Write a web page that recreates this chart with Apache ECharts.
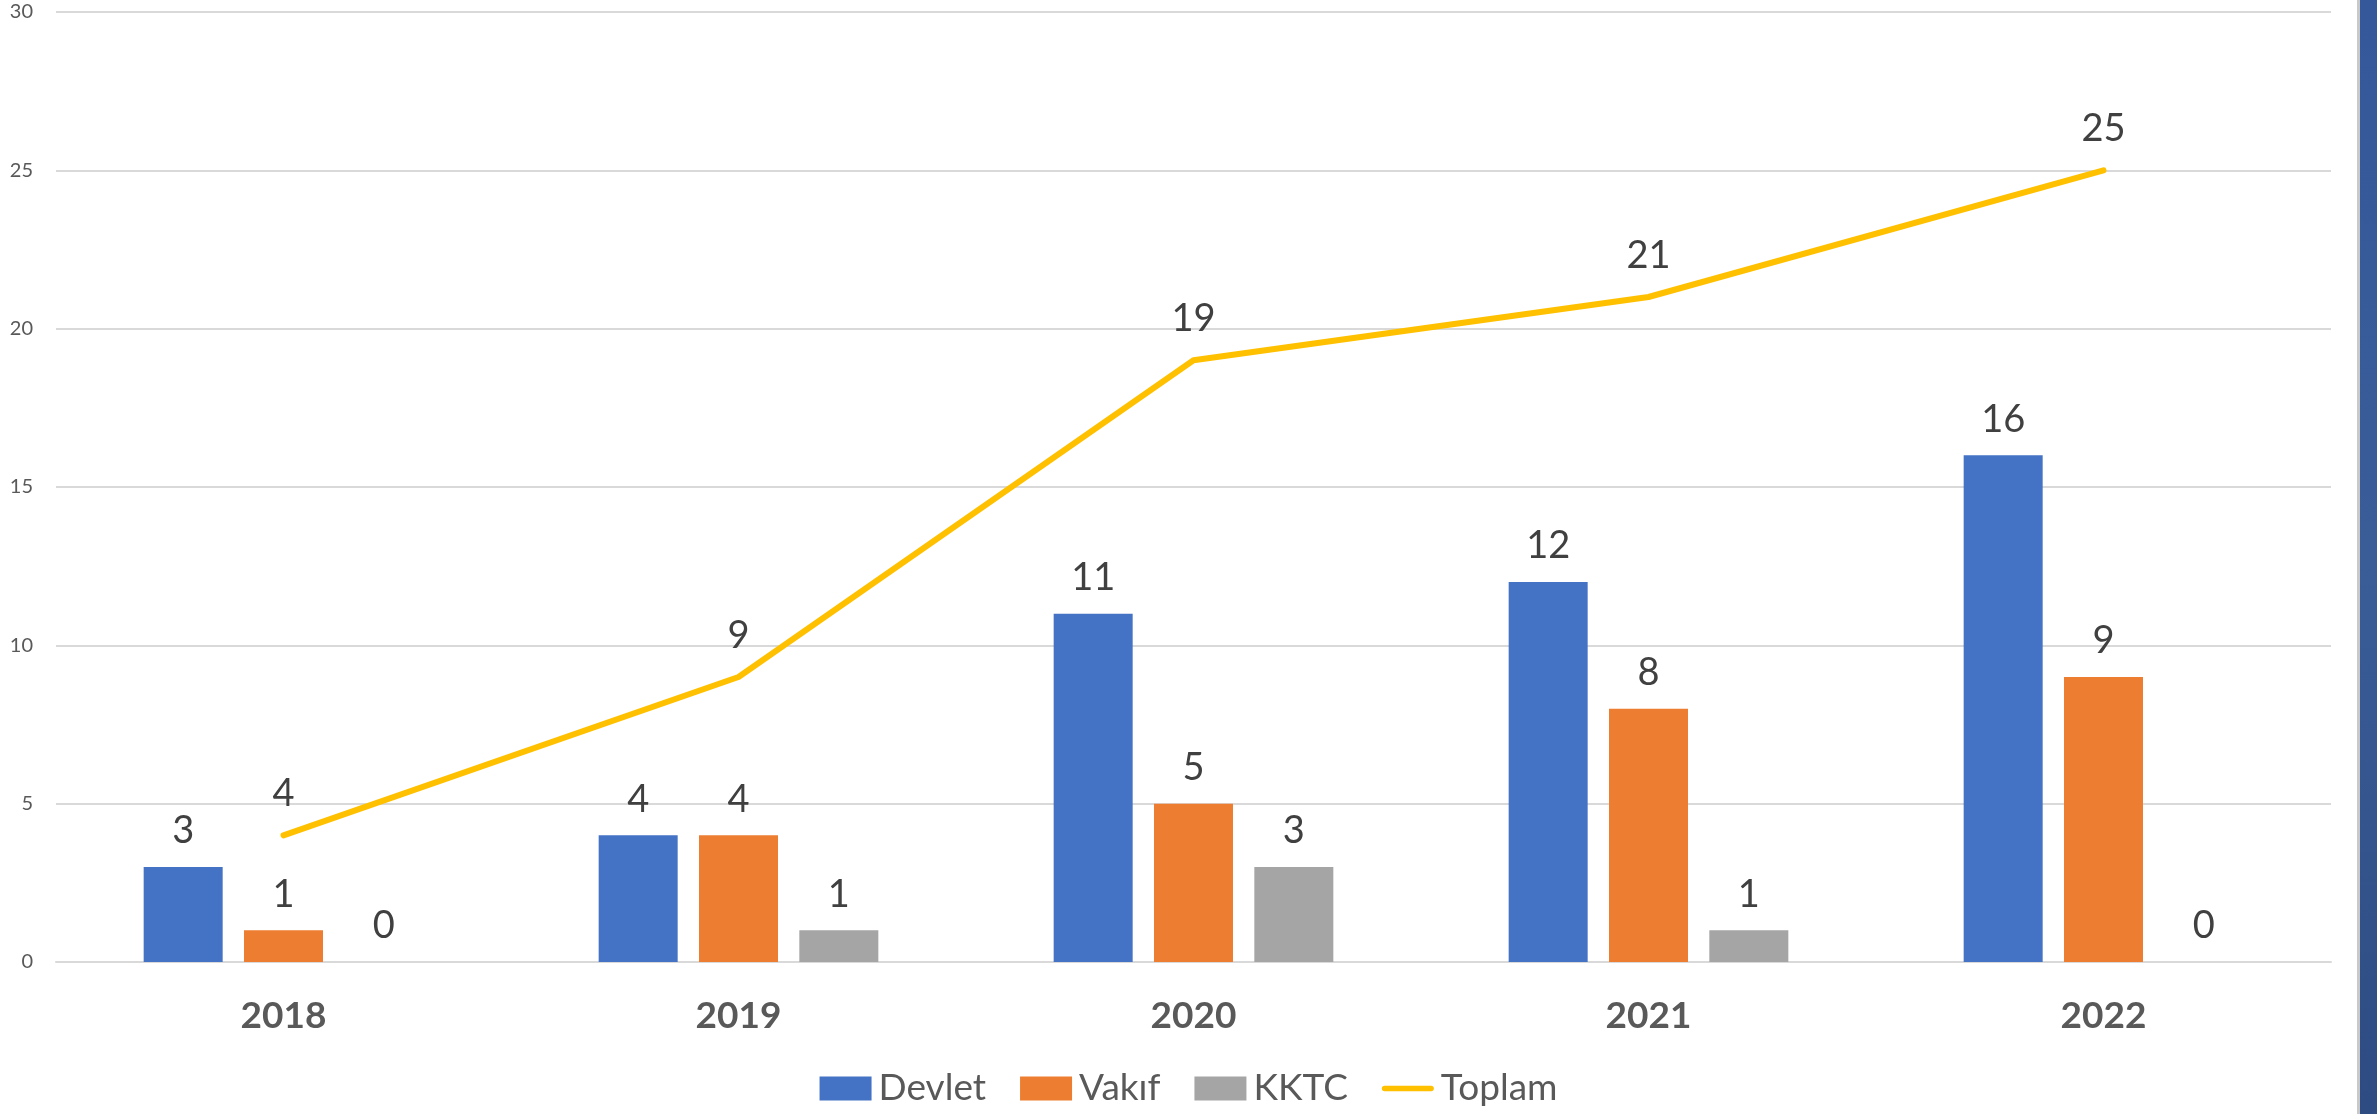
<!DOCTYPE html>
<html>
<head>
<meta charset="utf-8">
<script src="https://cdn.jsdelivr.net/npm/echarts@6/dist/echarts.min.js"></script>
<style>
html,body{margin:0;padding:0;background:#fff;}
#c{width:2377px;height:1114px;}
</style>
</head>
<body>
<div id="c"></div>
<script>
var categories = ['2018', '2019', '2020', '2021', '2022'];
var devlet = [3, 4, 11, 12, 16];
var vakif = [1, 4, 5, 8, 9];
var kktc = [0, 1, 3, 1, 0];
var toplam = [4, 9, 19, 21, 25];
var yTicks = [0, 5, 10, 15, 20, 25, 30];

var FONT = 'Lato, "Open Sans", sans-serif';
var chart = echarts.init(document.getElementById('c'));

var barLabel = {
  show: true, position: 'top', distance: 17,
  color: '#404040', fontSize: 38, fontFamily: FONT
};

chart.setOption({
  animation: false,
  grid: { left: 56, right: 46, top: 12, bottom: 152 },
  legend: {
    bottom: 2, left: 'center',
    itemWidth: 52, itemHeight: 24, itemGap: 34,
    symbolKeepAspect: true,
    textStyle: { color: '#595959', fontSize: 37, fontFamily: FONT, padding: [0, 0, 0, 2] },
    data: [
      { name: 'Devlet', icon: 'rect' },
      { name: 'Vakıf', icon: 'rect' },
      { name: 'KKTC', icon: 'rect' },
      { name: 'Toplam', icon: 'path://M3,0 L53,0 A3,3 0 0 1 53,6 L3,6 A3,3 0 0 1 3,0 Z',
        symbolKeepAspect: true, itemStyle: { color: '#ffc000' } }
    ]
  },
  xAxis: {
    type: 'category', data: categories,
    axisLine: { lineStyle: { color: '#d9d9d9', width: 2 } },
    axisTick: { show: false },
    axisLabel: { color: '#595959', fontSize: 37, fontWeight: 'bold', fontFamily: FONT, margin: 36 }
  },
  yAxis: {
    type: 'value', min: yTicks[0], max: yTicks[yTicks.length - 1], interval: 5,
    axisLine: { show: false }, axisTick: { show: false },
    axisLabel: { color: '#595959', fontSize: 20, fontFamily: FONT, margin: 23 },
    splitLine: { lineStyle: { color: '#d9d9d9', width: 2 } }
  },
  series: [
    { name: 'Devlet', type: 'bar', data: devlet, barWidth: 79, barGap: '27%',
      itemStyle: { color: '#4472c4' }, label: barLabel },
    { name: 'Vakıf', type: 'bar', data: vakif, barWidth: 79, barGap: '27%',
      itemStyle: { color: '#ed7d31' }, label: barLabel },
    { name: 'KKTC', type: 'bar', data: kktc, barWidth: 79, barGap: '27%',
      itemStyle: { color: '#a5a5a5' }, label: barLabel },
    { name: 'Toplam', type: 'line', data: toplam, symbol: 'circle', symbolSize: 1, showSymbol: true, z: 5,
      lineStyle: { color: '#ffc000', width: 6, cap: 'round', join: 'round' },
      itemStyle: { color: '#ffc000' },
      label: { show: true, position: 'top', distance: 22, color: '#404040', fontSize: 38, fontFamily: FONT } }
  ],
  graphic: [
    { type: 'rect', shape: { x: 2357, y: 0, width: 3, height: 1114 }, style: { fill: '#c9c9c9' }, silent: true },
    { type: 'rect', shape: { x: 2360, y: 0, width: 17, height: 1114 },
      style: { fill: new echarts.graphic.LinearGradient(0, 0, 0, 1, [
        { offset: 0, color: '#34589a' }, { offset: 0.5, color: '#3a5d98' }, { offset: 1, color: '#2e4b82' }]) },
      silent: true }
  ]
});
</script>
</body>
</html>
